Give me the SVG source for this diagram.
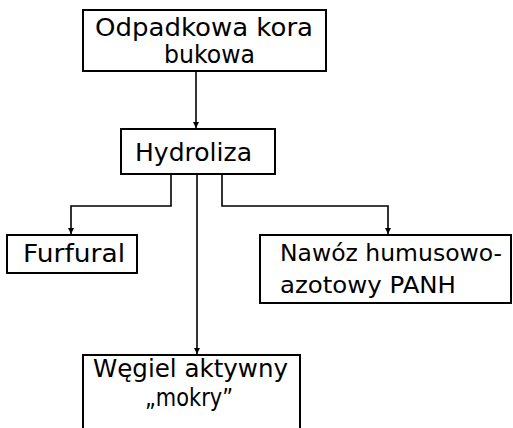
<svg xmlns="http://www.w3.org/2000/svg" width="513" height="428" viewBox="0 0 513 428">
<style>
.box{fill:#fff;stroke:#000;stroke-width:2}
.t{font-family:"DejaVu Sans","Liberation Sans",sans-serif;font-size:25px;fill:#000}
.s{font-size:23px}
.c{fill:none;stroke:#000;stroke-width:1.6}
</style>
<defs>
<marker id="ah" viewBox="0 0 6 10" refX="6" refY="5" markerWidth="6" markerHeight="10" markerUnits="userSpaceOnUse" orient="auto">
<path d="M0,2 L6,5 L0,8 Z" fill="#000"/>
</marker>
</defs>
<rect width="513" height="428" fill="#fff"/>
<g id="connectors">
<path class="c" d="M196,72 V128" marker-end="url(#ah)"/>
<path class="c" d="M171,174 V206 H71 V234" marker-end="url(#ah)"/>
<path class="c" d="M222,174 V206 H388 V234" marker-end="url(#ah)"/>
<path class="c" d="M197,174 V354" marker-end="url(#ah)"/>
</g>
<g id="n1">
<rect class="box" x="83" y="10" width="243" height="61"/>
<text class="t" x="95" y="36" textLength="218" lengthAdjust="spacingAndGlyphs">Odpadkowa kora</text>
<text class="t" x="164" y="63" textLength="91" lengthAdjust="spacingAndGlyphs">bukowa</text>
</g>
<g id="n2">
<rect class="box" x="121" y="129" width="154" height="45"/>
<text class="t" x="135" y="161" textLength="117" lengthAdjust="spacingAndGlyphs">Hydroliza</text>
</g>
<g id="n3">
<rect class="box" x="7" y="235" width="130" height="38"/>
<text class="t" x="23" y="262" textLength="102" lengthAdjust="spacingAndGlyphs">Furfural</text>
</g>
<g id="n4">
<rect class="box" x="260" y="235" width="251" height="68"/>
<text class="t s" x="280" y="261" textLength="222" lengthAdjust="spacingAndGlyphs">Nawóz humusowo-</text>
<text class="t s" x="280" y="293" textLength="176" lengthAdjust="spacingAndGlyphs">azotowy PANH</text>
</g>
<g id="n5">
<rect class="box" x="83" y="355" width="217" height="80"/>
<text class="t" x="93" y="377" textLength="195" lengthAdjust="spacingAndGlyphs">Węgiel aktywny</text>
<text class="t" x="145" y="406" textLength="88" lengthAdjust="spacingAndGlyphs">„mokry”</text>
</g>
</svg>
